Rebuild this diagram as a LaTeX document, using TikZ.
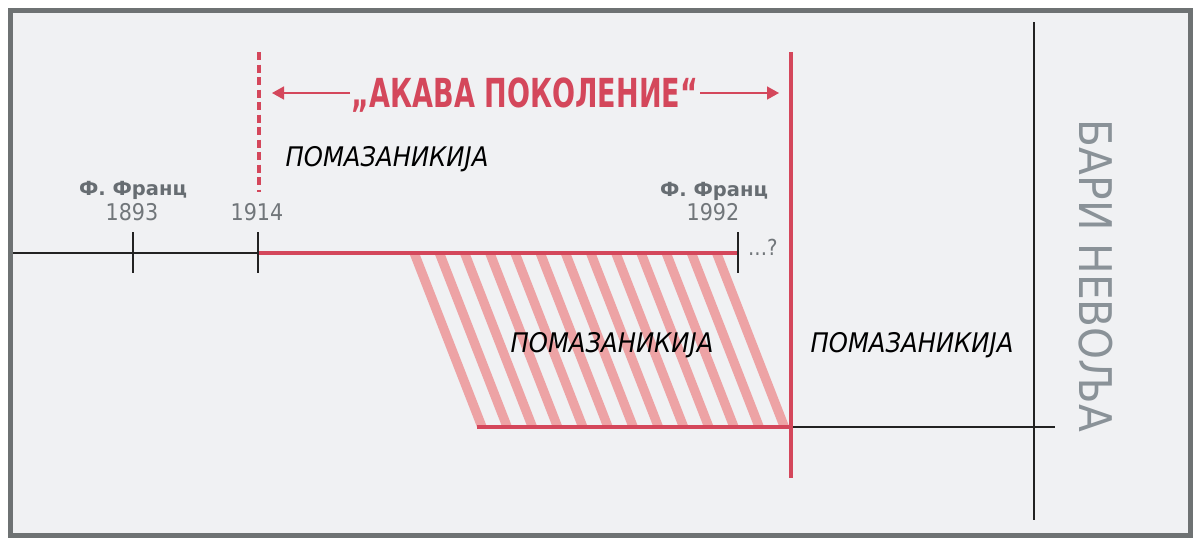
\documentclass[tikz,border=0pt]{standalone}
\usepackage{fontspec}
\usepackage{graphicx}
\setmainfont{DejaVu Sans}
\newfontfamily\cond{DejaVu Sans Condensed}
\usetikzlibrary{arrows.meta}
\definecolor{bgc}{HTML}{F0F1F3}
\definecolor{framec}{HTML}{6E7273}
\definecolor{redc}{HTML}{D4475B}
\definecolor{pinkc}{HTML}{EDA3A5}
\definecolor{labc}{HTML}{676D72}
\definecolor{yearc}{HTML}{71767A}
\definecolor{barc}{HTML}{8A9298}
\definecolor{inkc}{HTML}{222222}
\begin{document}
\begin{tikzpicture}[x=1pt,y=-1pt,
  blackline/.style={draw=inkc,line width=2.4pt},
  redline/.style={draw=redc,line width=4pt},
  dashred/.style={draw=redc,line width=4pt,dash pattern=on 8pt off 4.5pt},
  stripe/.style={fill=pinkc},
  arrowline/.style={draw=redc,line width=1.6pt,-{Triangle[length=12pt,width=13pt]}},
  pomaz/.style={font=\cond\itshape\fontsize{27}{27}\selectfont,text=black,inner sep=0pt,anchor=base},
  franz/.style={font=\bfseries\fontsize{19.5}{19.5}\selectfont,text=labc,inner sep=0pt,anchor=base},
  yearlab/.style={font=\cond\fontsize{23}{23}\selectfont,text=yearc,inner sep=0pt,anchor=base},
]
\useasboundingbox (0,0) rectangle (1200,547);
\fill[white] (0,0) rectangle (1200,547);
\filldraw[fill=bgc,draw=framec,line width=5pt] (10,10) rectangle (1190,535);

% coordinates
\coordinate (L0) at (13,253);
\coordinate (T1) at (133,253);
\coordinate (T2) at (258,253);
\coordinate (T3) at (738,253);
\coordinate (T1a) at (133,232); \coordinate (T1b) at (133,273);
\coordinate (T2a) at (258,232); \coordinate (T2b) at (258,273);
\coordinate (T3a) at (738,232); \coordinate (T3b) at (738,273);
\coordinate (Da) at (259,52); \coordinate (Db) at (259,192);
\coordinate (Va) at (791,52); \coordinate (Vb) at (791,478);
\coordinate (B0) at (477,427); \coordinate (B1) at (791,427); \coordinate (B2) at (1055,427);
\coordinate (Ka) at (1034,22); \coordinate (Kb) at (1034,520);
\coordinate (al) at (350,93); \coordinate (alt) at (272,93);
\coordinate (ar) at (700,93); \coordinate (art) at (779,93);

% hatch stripes
\foreach \k in {0,...,12}{
  \pgfmathsetmacro\xo{410+25.2*\k}
  \fill[stripe] (\xo,255) -- ++(10,0) -- ++(67,172) -- ++(-10,0) -- cycle;
}

% lines
\draw[blackline] (L0) -- (T2);
\draw[redline] (T2) -- (T3);
\draw[blackline] (T1a) -- (T1b);
\draw[blackline] (T2a) -- (T2b);
\draw[blackline] (T3a) -- (T3b);
\draw[dashred] (Da) -- (Db);
\draw[redline] (B0) -- (B1);
\draw[blackline] (B1) -- (B2);
\draw[blackline] (Ka) -- (Kb);
\draw[redline] (Va) -- (Vb);
\draw[arrowline] (al) -- (alt);
\draw[arrowline] (ar) -- (art);

% texts
\node[font=\cond\bfseries\fontsize{40}{40}\selectfont,text=redc,inner sep=0pt,anchor=base] (title) at (525,107) {\resizebox{346pt}{\height}{„АКАВА ПОКОЛЕНИЕ“}};
\node[pomaz] (p1) at (387,166) {ПОМАЗАНИКИЈА};
\node[pomaz] (p2) at (612,352) {ПОМАЗАНИКИЈА};
\node[pomaz] (p3) at (912,352) {ПОМАЗАНИКИЈА};
\node[franz] (f1) at (133,195) {Ф. Франц};
\node[franz] (f2) at (714,196) {Ф. Франц};
\node[yearlab] (y1) at (132,220) {1893};
\node[yearlab] (y2) at (257,220) {1914};
\node[yearlab] (y3) at (713,220) {1992};
\node[yearlab,anchor=base west,font=\cond\fontsize{22}{22}\selectfont] (q) at (748,255) {...?};
\node[font=\cond\fontsize{45}{45}\selectfont,text=barc,inner sep=0pt,rotate=-90] (bari) at (1096,276) {\resizebox{312pt}{\height}{БАРИ НЕВОЉА}};
\end{tikzpicture}
\end{document}
